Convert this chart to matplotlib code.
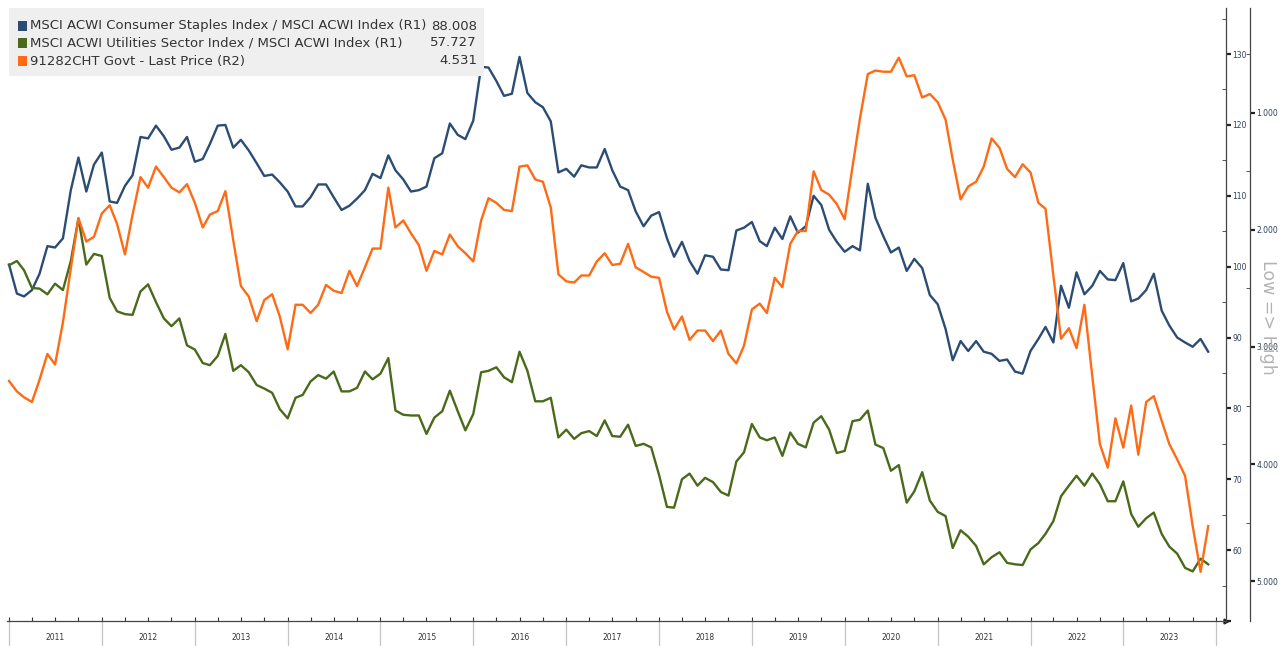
import matplotlib
matplotlib.use("Agg")
import matplotlib.pyplot as plt
import matplotlib.dates as mdates
from matplotlib.ticker import MultipleLocator, FuncFormatter, FormatStrFormatter, NullFormatter
from matplotlib.patches import Rectangle
import pandas as pd

# ---------------- data ----------------
start_month = "2011-01-01"
n_points = 156

staples = [100.3, 96.2, 95.8, 96.7, 99.0, 102.9, 102.7, 104.0, 110.8, 115.4, 110.6, 114.4, 116.1, 109.2,
           109.0, 111.4, 112.9, 118.3, 118.1, 119.9, 118.4, 116.5, 116.8, 118.3, 114.8, 115.2, 117.3,
           119.9, 120.0, 116.8, 117.9, 116.4, 114.6, 112.8, 113.0, 111.9, 110.6, 108.5, 108.5, 109.8,
           111.6, 111.6, 109.8, 108.0, 108.6, 109.6, 110.8, 113.1, 112.5, 115.7, 113.6, 112.3, 110.6, 110.8,
           111.3, 115.3, 116.0, 120.2, 118.6, 118.0, 120.6, 128.2, 128.1, 126.2, 124.1, 124.4, 129.6,
           124.5, 123.2, 122.5, 120.5, 113.3, 113.8, 112.7, 114.3, 114.0, 114.0, 116.6, 113.6, 111.3,
           110.8, 107.8, 105.7, 107.2, 107.7, 104.0, 101.4, 103.5, 100.8, 99.0, 101.6, 101.4, 99.6, 99.5,
           105.1, 105.5, 106.3, 103.6, 102.9, 105.5, 103.9, 107.1, 104.8, 105.7, 110.0, 108.7, 105.2,
           103.5, 102.1, 102.9, 102.3, 111.7, 106.9, 104.3, 102.0, 102.7, 99.4, 101.1, 99.8, 96.0, 94.7,
           91.2, 86.8, 89.5, 88.1, 89.5, 88.0, 87.7, 86.7, 86.9, 85.2, 84.9, 88.1,
           89.8, 91.5, 89.3, 97.3, 94.2, 99.2, 96.1, 97.3, 99.4, 98.2, 98.1, 100.5, 95.1, 95.5, 96.7,
           99.0, 93.8, 91.7, 90.0, 89.3, 88.7, 89.8, 88.0]

utilities = [100.2, 100.8, 99.5, 97.0, 96.9, 96.1, 97.6, 96.7, 100.8, 106.8, 100.3, 101.8, 101.5, 95.6,
             93.7, 93.3, 93.2, 96.5, 97.5, 95.0, 92.7, 91.6, 92.7, 88.9, 88.3, 86.4, 86.1,
             87.4, 90.5, 85.3, 86.1, 85.1, 83.3, 82.8, 82.2, 79.9, 78.6, 81.5, 81.9, 83.8, 84.7, 84.2,
             85.2, 82.4, 82.4, 82.9, 85.2, 84.1, 84.9, 87.1, 79.7, 79.1, 79.0, 79.0,
             76.4, 78.7, 79.6, 82.5, 79.6, 76.9, 79.2, 85.1, 85.3, 85.8, 84.4, 83.7, 88.0, 85.3, 81.0,
             81.0, 81.5, 75.9, 77.0, 75.7, 76.5, 76.8, 76.1, 78.3, 76.1, 76.0,
             77.7, 74.7, 75.0, 74.5, 70.6, 66.1, 66.0, 70.0, 70.8, 69.1, 70.2, 69.6, 68.2, 67.7, 72.5,
             73.8, 77.8, 75.9, 75.5, 75.9, 73.3, 76.6, 75.0, 74.5, 78.0, 78.9, 77.0,
             73.7, 74.0, 78.2, 78.4, 79.7, 74.9, 74.4, 71.2, 72.0, 66.7, 68.3, 71.0, 67.0, 65.4, 64.8,
             60.3, 62.8, 61.9, 60.6, 58.0, 59.0, 59.7, 58.2, 58.0, 57.9, 60.1,
             61.0, 62.3, 64.1, 67.6, 69.1, 70.5, 69.1, 70.8, 69.3, 66.9, 66.9, 69.7, 65.1, 63.3, 64.5,
             65.3, 62.3, 60.5, 59.5, 57.5, 57.0, 58.8, 58.0]

yield_10y = [3.29, 3.38, 3.43, 3.47, 3.28, 3.06, 3.15, 2.79, 2.33, 1.90, 2.10, 2.06, 1.86, 1.79, 1.95,
             2.21, 1.87, 1.55, 1.64, 1.46, 1.55, 1.64, 1.68, 1.61, 1.77, 1.98, 1.87,
             1.84, 1.67, 2.09, 2.48, 2.57, 2.78, 2.60, 2.55, 2.74, 3.02, 2.64, 2.64, 2.71, 2.64, 2.47,
             2.52, 2.54, 2.35, 2.48, 2.32, 2.16, 2.16, 1.64, 1.98, 1.92, 2.03, 2.13,
             2.35, 2.18, 2.21, 2.04, 2.14, 2.20, 2.27, 1.92, 1.73, 1.77, 1.83, 1.84, 1.46, 1.45, 1.57,
             1.59, 1.81, 2.38, 2.44, 2.45, 2.39, 2.39, 2.27, 2.20, 2.30, 2.29,
             2.12, 2.32, 2.36, 2.40, 2.41, 2.70, 2.85, 2.74, 2.94, 2.86, 2.86, 2.95, 2.86, 3.06, 3.14,
             2.99, 2.68, 2.63, 2.71, 2.41, 2.49, 2.12, 2.01, 2.01, 1.50, 1.66, 1.70,
             1.78, 1.91, 1.46, 1.05, 0.67, 0.64, 0.65, 0.65, 0.53, 0.69, 0.68, 0.87, 0.84, 0.91, 1.06,
             1.40, 1.74, 1.63, 1.59, 1.46, 1.22, 1.30, 1.48, 1.55, 1.44, 1.51,
             1.77, 1.82, 2.39, 2.93, 2.84, 3.01, 2.64, 3.25, 3.83, 4.03, 3.61, 3.86, 3.50, 3.92, 3.47,
             3.42, 3.63, 3.83, 3.96, 4.10, 4.53, 4.92, 4.53]

series_names = ["MSCI ACWI Consumer Staples Index / MSCI ACWI Index (R1)",
                "MSCI ACWI Utilities Sector Index / MSCI ACWI Index (R1)",
                "91282CHT Govt - Last Price (R2)"]
last_values = ["88.008", "57.727", "4.531"]
years = list(range(2011, 2025))

C_BLUE = "#2b4d74"
C_GREEN = "#4a6a1b"
C_ORANGE = "#ff6a14"
TICK_COL = "#2e3f5f"

dates = pd.date_range(start_month, periods=n_points, freq="MS")

W, H = 1283, 646
fig = plt.figure(figsize=(W / 100, H / 100), dpi=100)
fig.patch.set_facecolor("white")

ax_l, ax_r, ax_t, ax_b = 7, 1226, 8, 621
ax = fig.add_axes([ax_l / W, 1 - ax_b / H, (ax_r - ax_l) / W, (ax_b - ax_t) / H])

ax.plot(dates, staples, color=C_BLUE, lw=1.7, zorder=3)
ax.plot(dates, utilities, color=C_GREEN, lw=1.7, zorder=3)

ax2 = ax.twinx()
ax2.plot(dates, yield_10y, color=C_ORANGE, lw=1.7, zorder=3)

# x axis
ax.set_xlim(pd.Timestamp("2010-12-24"), pd.Timestamp("2024-02-09"))
ax.xaxis.set_major_locator(mdates.MonthLocator(bymonth=[1, 4, 7, 10]))
ax.xaxis.set_major_formatter(NullFormatter())
ax.xaxis.set_minor_locator(mdates.MonthLocator(bymonth=7, bymonthday=2))
ax.xaxis.set_minor_formatter(mdates.DateFormatter("%Y"))
ax.tick_params(axis="x", which="major", direction="in", length=3, width=0.8, color="#333333")
ax.tick_params(axis="x", which="minor", length=0, labelsize=5.5, pad=9, labelcolor="#333333")
for y in years:
    ax.plot([pd.Timestamp(y, 1, 1)] * 2, [0, -0.05], transform=ax.get_xaxis_transform(),
            clip_on=False, color="#c4c4c4", lw=0.9)
ax.plot([1], [0], marker=">", transform=ax.transAxes, clip_on=False, ms=3.5, color="#222222")

# R1 axis
ax.set_ylim(50, 136.5)
ax.yaxis.set_ticks_position("right")
ax.yaxis.set_major_locator(MultipleLocator(10))
ax.yaxis.set_major_formatter(FuncFormatter(lambda v, p: "" if v < 55 else f"{v:.0f}"))
ax.yaxis.set_minor_locator(MultipleLocator(5))
ax.tick_params(axis="y", which="major", direction="out", length=3.5, width=1.6, color="#222222",
               labelsize=5.5, pad=1, labelcolor=TICK_COL)
ax.tick_params(axis="y", which="minor", direction="in", length=3, width=0.7, color="#555555")
for s in ["left", "top"]:
    ax.spines[s].set_visible(False)
ax.spines["right"].set_color("#444444")
ax.spines["right"].set_linewidth(0.9)
ax.spines["bottom"].set_color("#444444")
ax.spines["bottom"].set_linewidth(0.9)

# R2 axis (inverted)
ax2.set_ylim(5.34, 0.106)
ax2.spines["right"].set_position(("axes", 1 + 24 / (ax_r - ax_l)))
for s in ["left", "top", "bottom"]:
    ax2.spines[s].set_visible(False)
ax2.spines["right"].set_color("#444444")
ax2.spines["right"].set_linewidth(0.9)
ax2.yaxis.set_major_locator(MultipleLocator(1))
ax2.yaxis.set_major_formatter(FormatStrFormatter("%.3f"))
ax2.yaxis.set_minor_locator(MultipleLocator(0.5))
ax2.tick_params(axis="y", which="major", direction="out", length=3.5, width=1.6, color="#222222",
                labelsize=5.5, pad=1, labelcolor=TICK_COL)
ax2.tick_params(axis="y", which="minor", direction="in", length=3, width=0.7, color="#555555")

fig.text(1268 / W, 1 - 317 / H, "Low => High", rotation=-90, ha="center", va="center",
         fontsize=12.5, color="#b4b4b4")

# legend box
fig.add_artist(Rectangle((9 / W, 1 - 76 / H), 475 / W, 68 / H, transform=fig.transFigure,
                         facecolor="#efefef", edgecolor="none", zorder=5))
for k, (name, val, col) in enumerate(zip(series_names, last_values, [C_BLUE, C_GREEN, C_ORANGE])):
    yc = [26, 43, 61][k]
    fig.add_artist(Rectangle((18 / W, 1 - (yc + 4.5) / H), 9 / W, 9 / H, transform=fig.transFigure,
                             facecolor=col, edgecolor="none", zorder=6))
    fig.text(30 / W, 1 - yc / H, name, ha="left", va="center", fontsize=9.5, color="#333333", zorder=6)
    fig.text(477 / W, 1 - yc / H, val, ha="right", va="center", fontsize=9.5, color="#333333", zorder=6)

fig.savefig("out.png", dpi=100)
